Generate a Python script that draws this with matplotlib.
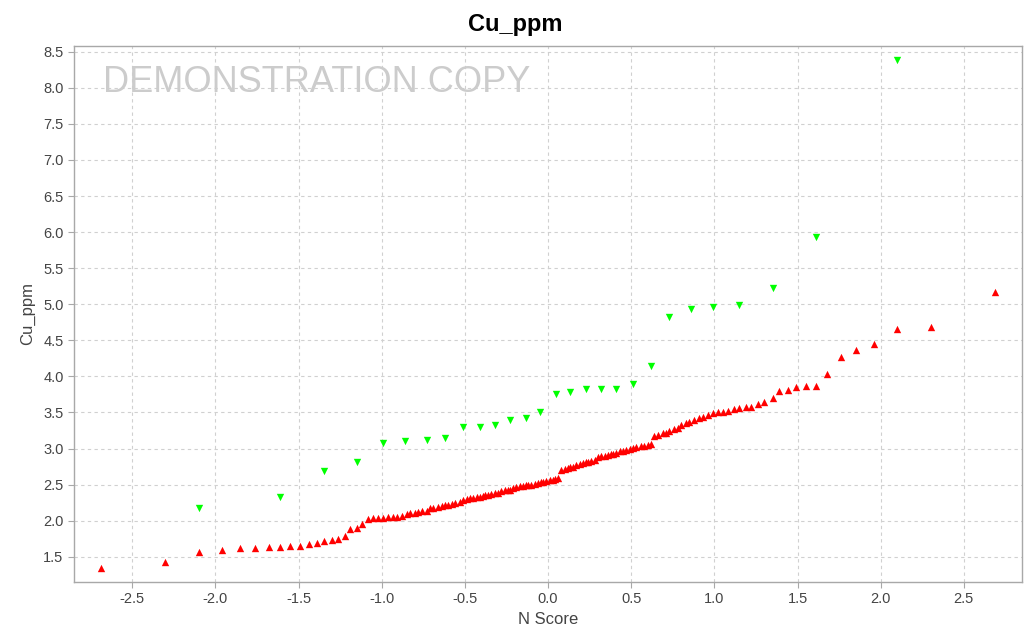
import matplotlib
matplotlib.use("Agg")
import matplotlib.pyplot as plt

# N scores and Cu values
red_nscore = [
    -2.69, -2.30, -2.10, -1.96, -1.85, -1.76, -1.68, -1.61, -1.55, -1.49,
    -1.44, -1.39, -1.35, -1.30, -1.26, -1.22, -1.19, -1.15, -1.12, -1.08,
    -1.05, -1.02, -0.99, -0.96, -0.93, -0.91, -0.88, -0.85, -0.83, -0.80,
    -0.78, -0.76, -0.73, -0.71, -0.69, -0.66, -0.64, -0.62, -0.60, -0.58,
    -0.56, -0.53, -0.51, -0.49, -0.47, -0.45, -0.43, -0.41, -0.39, -0.38,
    -0.36, -0.34, -0.32, -0.30, -0.28, -0.26, -0.24, -0.23, -0.21, -0.19,
    -0.17, -0.15, -0.13, -0.12, -0.10, -0.08, -0.06, -0.04, -0.03, -0.01,
    0.01, 0.03, 0.04, 0.06, 0.08, 0.10, 0.12, 0.13, 0.15, 0.17,
    0.19, 0.21, 0.23, 0.24, 0.26, 0.28, 0.30, 0.32, 0.34, 0.36,
    0.38, 0.39, 0.41, 0.43, 0.45, 0.47, 0.49, 0.51, 0.53, 0.56,
    0.58, 0.60, 0.62, 0.64, 0.66, 0.69, 0.71, 0.73, 0.76, 0.78,
    0.80, 0.83, 0.85, 0.88, 0.91, 0.93, 0.96, 0.99, 1.02, 1.05,
    1.08, 1.12, 1.15, 1.19, 1.22, 1.26, 1.30, 1.35, 1.39, 1.44,
    1.49, 1.55, 1.61, 1.68, 1.76, 1.85, 1.96, 2.10, 2.30, 2.69,
]
red_cu = [
    1.35, 1.43, 1.57, 1.60, 1.62, 1.62, 1.64, 1.64, 1.65, 1.65,
    1.67, 1.69, 1.72, 1.73, 1.75, 1.79, 1.89, 1.90, 1.96, 2.03,
    2.04, 2.04, 2.04, 2.05, 2.05, 2.05, 2.06, 2.09, 2.10, 2.11,
    2.12, 2.13, 2.14, 2.17, 2.18, 2.19, 2.21, 2.22, 2.22, 2.23,
    2.25, 2.26, 2.29, 2.30, 2.31, 2.32, 2.33, 2.33, 2.34, 2.35,
    2.36, 2.37, 2.38, 2.39, 2.41, 2.42, 2.42, 2.43, 2.45, 2.47,
    2.48, 2.48, 2.49, 2.49, 2.50, 2.51, 2.52, 2.53, 2.54, 2.55,
    2.56, 2.57, 2.58, 2.59, 2.70, 2.72, 2.73, 2.74, 2.75, 2.77,
    2.79, 2.80, 2.81, 2.82, 2.83, 2.84, 2.88, 2.89, 2.90, 2.91,
    2.92, 2.93, 2.94, 2.96, 2.97, 2.98, 3.00, 3.01, 3.02, 3.03,
    3.04, 3.05, 3.06, 3.17, 3.19, 3.21, 3.22, 3.24, 3.27, 3.29,
    3.32, 3.35, 3.37, 3.39, 3.43, 3.44, 3.46, 3.49, 3.50, 3.50,
    3.52, 3.55, 3.56, 3.57, 3.58, 3.62, 3.65, 3.70, 3.80, 3.81,
    3.85, 3.86, 3.87, 4.03, 4.27, 4.37, 4.45, 4.66, 4.69, 5.17,
]

green_nscore = [
    -2.10, -1.61, -1.35, -1.15, -0.99, -0.86, -0.73, -0.62, -0.51, -0.41,
    -0.32, -0.23, -0.13, -0.05, 0.05, 0.13, 0.23, 0.32, 0.41, 0.51,
    0.62, 0.73, 0.86, 0.99, 1.15, 1.35, 1.61, 2.10,
]
green_cu = [
    2.18, 2.33, 2.69, 2.81, 3.08, 3.11, 3.12, 3.15, 3.30, 3.30,
    3.33, 3.39, 3.42, 3.51, 3.76, 3.79, 3.82, 3.82, 3.83, 3.89,
    4.14, 4.82, 4.94, 4.96, 4.99, 5.22, 5.93, 8.38,
]

x_ticks = [-2.5, -2.0, -1.5, -1.0, -0.5, 0.0, 0.5, 1.0, 1.5, 2.0, 2.5]
y_ticks = [1.5, 2.0, 2.5, 3.0, 3.5, 4.0, 4.5, 5.0, 5.5, 6.0, 6.5, 7.0, 7.5, 8.0, 8.5]

plt.rcParams['font.family'] = ['Liberation Sans', 'DejaVu Sans']

fig = plt.figure(figsize=(10.31, 6.36), dpi=100)
ax = fig.add_axes([0.0718, 0.0849, 0.9195, 0.8428])

ax.scatter(red_nscore, red_cu, marker='^', s=28, color='#ff0000',
           linewidths=0, zorder=3)
ax.scatter(green_nscore, green_cu, marker='v', s=28, color='#00ff00',
           linewidths=0, zorder=3)

ax.set_xlim(-2.85, 2.85)
ax.set_ylim(1.15, 8.58)
ax.set_xticks(x_ticks)
ax.set_yticks(y_ticks)
ax.set_xticklabels([f"{t:.1f}" for t in x_ticks])
ax.set_yticklabels([f"{t:.1f}" for t in y_ticks])

ax.grid(True, color='#d0d0d0', linestyle=(0, (3, 3)), linewidth=0.8)
ax.set_axisbelow(True)
for sp in ax.spines.values():
    sp.set_color('#a8a8a8')
    sp.set_linewidth(1.0)
ax.tick_params(colors='#a8a8a8', labelcolor='#444444', labelsize=10.5,
               length=4, width=0.8)

ax.set_xlabel('N Score', fontsize=12, color='#444444', labelpad=4)
ax.set_ylabel('Cu_ppm', fontsize=12, color='#444444', labelpad=6)
fig.text(0.5, 0.962, 'Cu_ppm', ha='center', va='center',
         fontsize=17, fontweight='bold', color='black')

# watermark
ax.text(103 / 1031, 1 - 82 / 636, 'DEMONSTRATION COPY',
        transform=fig.transFigure, ha='left', va='center',
        fontsize=26, color='#cccccc', zorder=1)

fig.savefig('out.png', dpi=100, facecolor='white')
